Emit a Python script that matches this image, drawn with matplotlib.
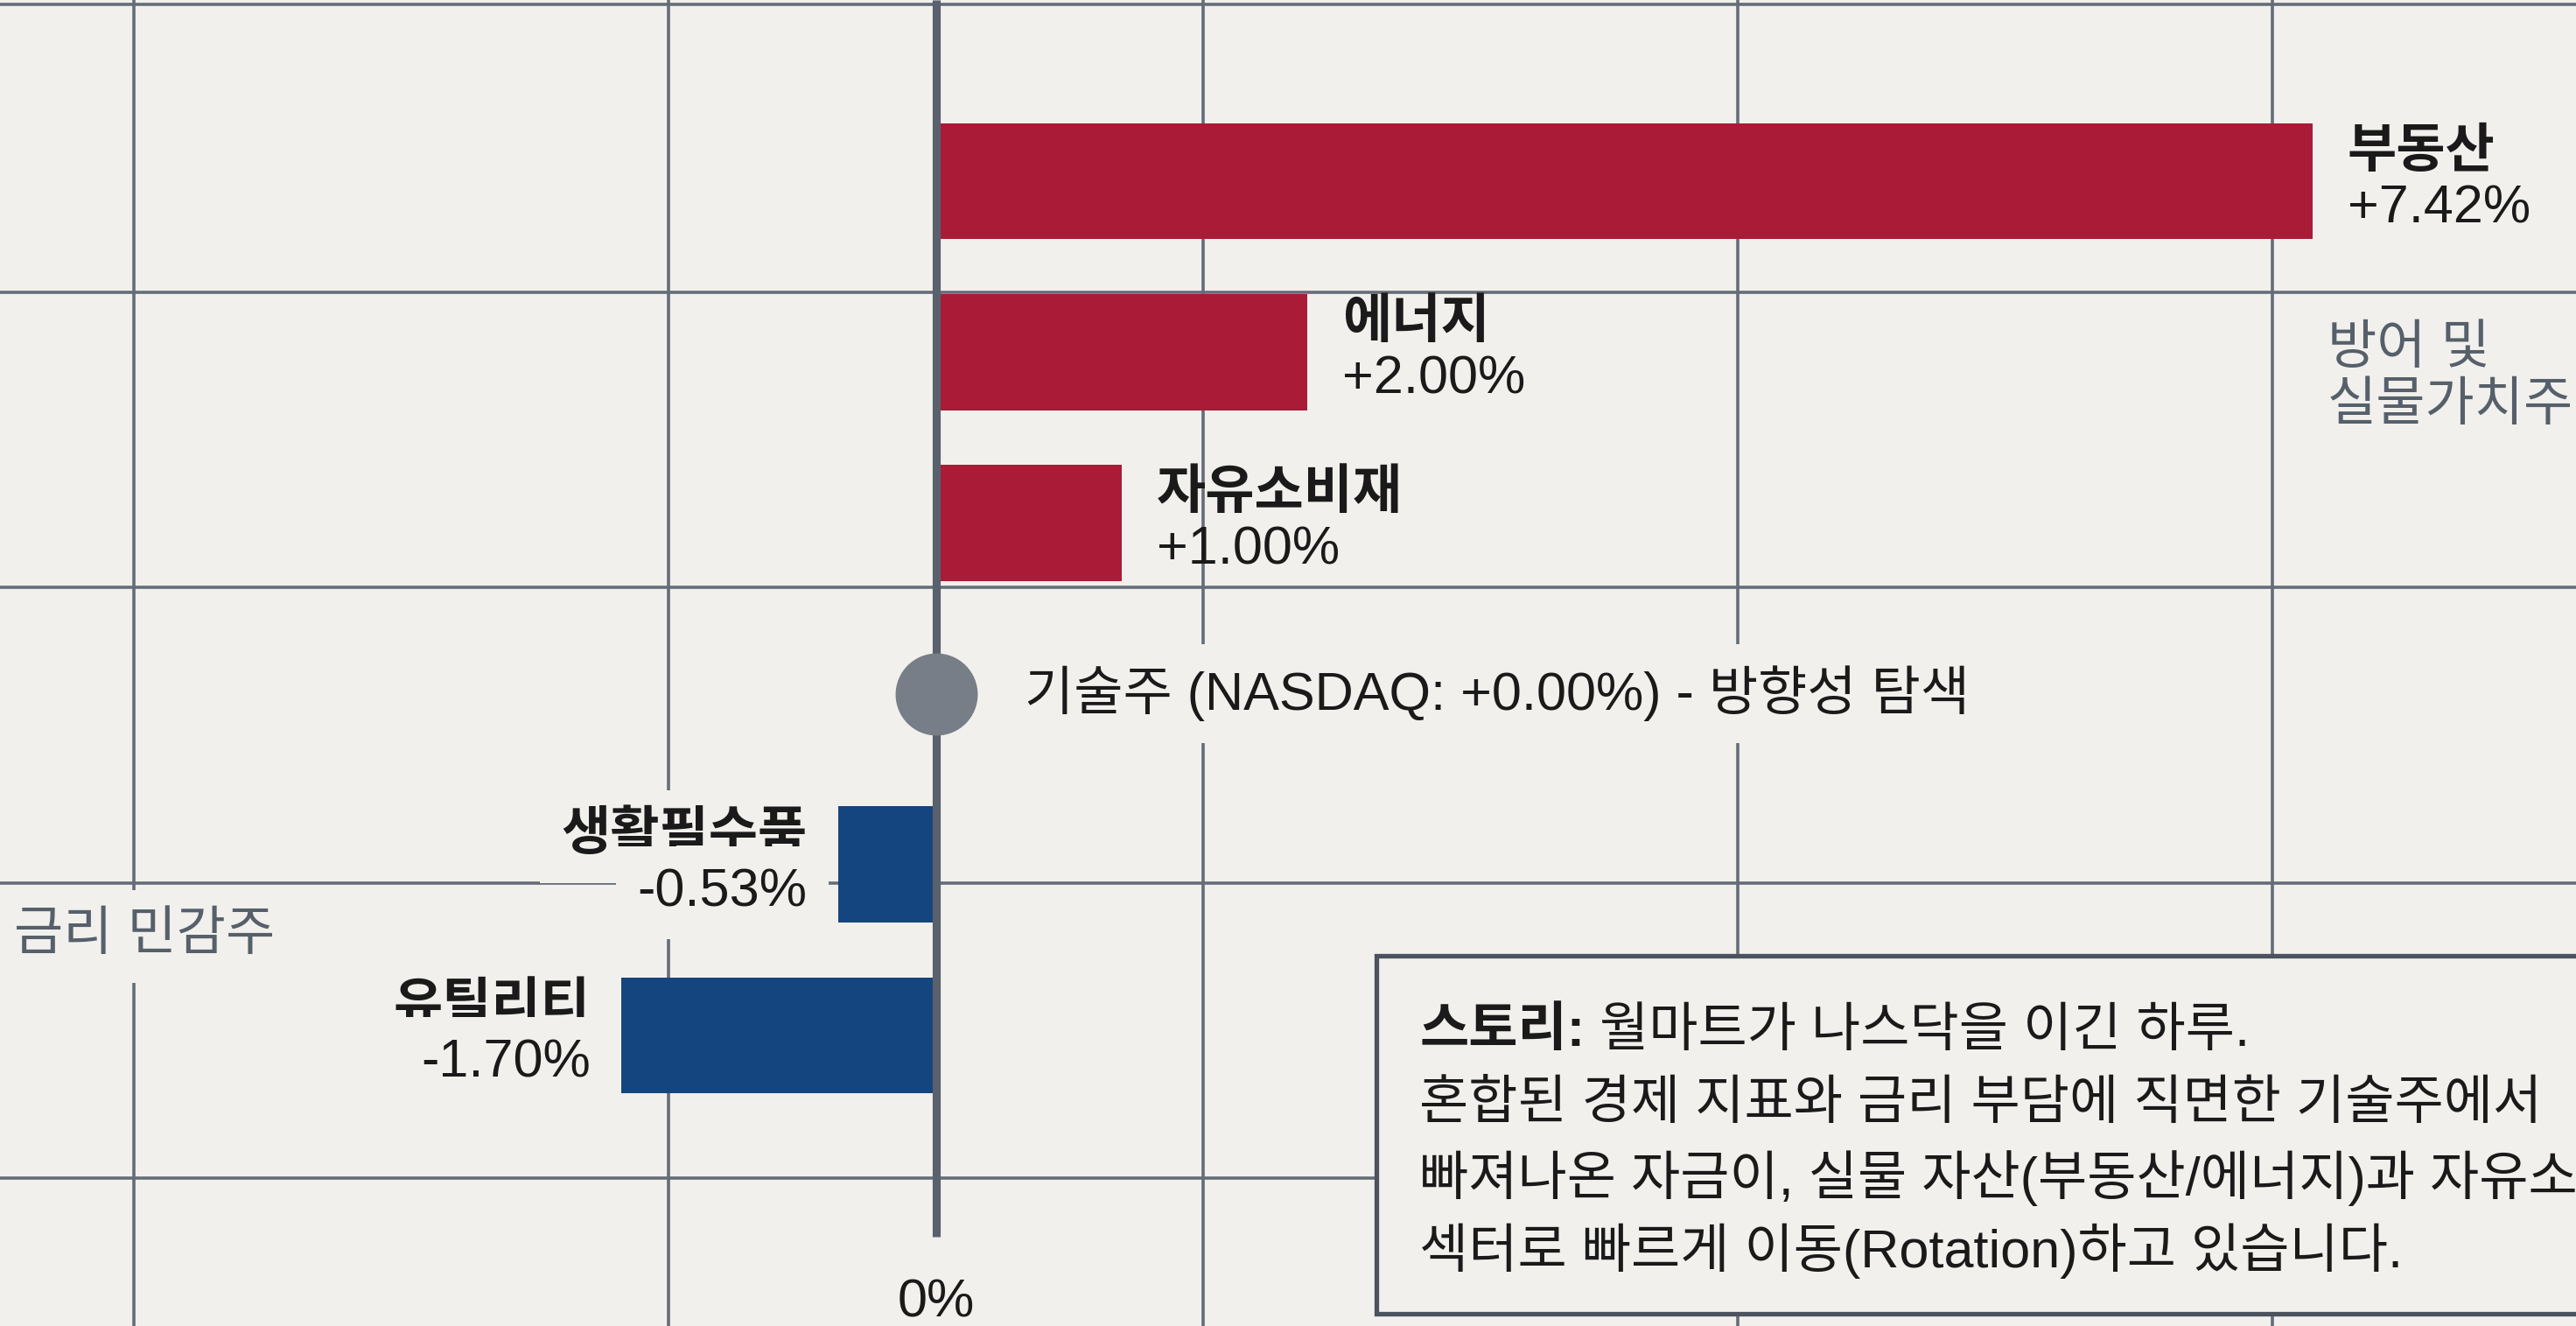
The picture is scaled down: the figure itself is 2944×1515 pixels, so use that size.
import matplotlib.pyplot as plt
from matplotlib.patches import Rectangle

# Latin glyphs from Liberation Sans, Hangul falls through to Noto CJK
plt.rcParams['font.family'] = ['Liberation Sans', 'Noto Sans CJK KR', 'DejaVu Sans']

# data
sectors = ['부동산', '에너지', '자유소비재', '기술주', '생활필수품', '유틸리티']
changes = [7.42, 2.00, 1.00, 0.00, -0.53, -1.70]
value_labels = ['+7.42%', '+2.00%', '+1.00%', '+0.00%', '-0.53%', '-1.70%']
center_sector = '기술주'
center_label = '기술주 (NASDAQ: +0.00%) - 방향성 탐색'
group_up = '방어 및\n실물가치주'
group_down = '금리 민감주'
zero_label = '0%'
story_title = '스토리:'
story_first = '월마트가 나스닥을 이긴 하루.'
story_lines = [
    '혼합된 경제 지표와 금리 부담에 직면한 기술주에서',
    '빠져나온 자금이, 실물 자산(부동산/에너지)과 자유소비재',
    '섹터로 빠르게 이동(Rotation)하고 있습니다.',
]

# style
bg = '#F1F0EC'
red = '#A91B36'
blue = '#15457F'
grid_c = '#646D78'
axis_c = '#58616C'
dot_c = '#777E87'
txt_c = '#1A1A1A'
group_c = '#56606B'
fs = 22

fig = plt.figure(figsize=(14.72, 7.575), dpi=200, facecolor=bg)
ax = fig.add_axes([0, 0, 1, 1])
ax.set_facecolor(bg)
ax.set_xlim(-5.047, 8.840)
ax.set_ylim(6.701, -1.0605)
ax.axis('off')

# background grid (decorative, half-step offset from zero)
gx_step = 2.882
for k in range(-2, 3):
    ax.axvline((k + 0.5) * gx_step, color=grid_c, lw=1.3, zorder=0.5)
gy = [-1.035] + [0.651 + k * 1.7285 for k in range(4)]
for y in gy:
    ax.axhline(y, color=grid_c, lw=1.3, zorder=0.5)

ypos = list(range(len(sectors)))

# bars
for y, name, val, lab in zip(ypos, sectors, changes, value_labels):
    if name == center_sector:
        continue
    col = red if val > 0 else blue
    ax.barh(y, val, height=0.68, color=col, zorder=2)
    if val > 0:
        ax.annotate(name, xy=(val, y), xytext=(14.4, 11.5), textcoords='offset points',
                    ha='left', va='center', fontsize=fs, fontweight='bold', color=txt_c, zorder=5)
        ax.annotate(lab, xy=(val, y), xytext=(14.4, -11.5), textcoords='offset points',
                    ha='left', va='center', fontsize=fs, color=txt_c, zorder=5)
    else:
        box = dict(boxstyle='square,pad=0.4', fc=bg, ec='none')
        ax.annotate(name, xy=(val, y), xytext=(-12.6, 11.5), textcoords='offset points',
                    ha='right', va='center', fontsize=fs, fontweight='bold', color=txt_c,
                    bbox=box, zorder=4)
        ax.annotate(lab, xy=(val, y), xytext=(-12.6, -11.5), textcoords='offset points',
                    ha='right', va='center', fontsize=fs, color=txt_c, bbox=box, zorder=4)

# zero axis + center dot
ax.plot([0, 0], [-1.0605, 6.18], color=axis_c, lw=3.3, solid_capstyle='butt', zorder=3)
ci = sectors.index(center_sector)
ax.plot(changes[ci], ypos[ci], 'o', ms=32.8, color=dot_c, mec=dot_c, zorder=4)
ax.annotate(center_label, xy=(changes[ci], ypos[ci]), xytext=(36.5, 0), textcoords='offset points',
            ha='left', va='center', fontsize=fs, color=txt_c,
            bbox=dict(boxstyle='square,pad=0.4', fc=bg, ec='none'), zorder=4)

ax.text(0, 6.57, zero_label, ha='center', va='center', fontsize=fs, color=txt_c)

# group labels
ax.text(7.5, 1.153, group_up, ha='left', va='center', fontsize=fs, color=group_c, linespacing=1.2)
ax.text(-4.972, 4.42, group_down, ha='left', va='center', fontsize=fs, color=group_c,
        bbox=dict(boxstyle='square,pad=0.4', fc=bg, ec='none'), zorder=4)

# story box
ax.add_patch(Rectangle((0.5343, 0.0092), 0.6, 0.27, transform=ax.transAxes,
                       fc=bg, ec='#4A535E', lw=1.9, zorder=6))
y0 = 1 - 1179 / 1515
dy = 83.3 / 1515
t = ax.text(0.551, y0, story_title, transform=ax.transAxes, ha='left', va='center',
            fontsize=fs, fontweight='bold', color=txt_c, zorder=7)
ax.annotate(story_first, xy=(1, 0.5), xycoords=t, xytext=(6, 0), textcoords='offset points',
            ha='left', va='center', fontsize=fs, color=txt_c, zorder=7)
for i, line in enumerate(story_lines):
    ax.text(0.551, y0 - (i + 1) * dy, line, transform=ax.transAxes, ha='left', va='center',
            fontsize=fs, color=txt_c, zorder=7)

fig.savefig('out.png', dpi=200, facecolor=bg)
